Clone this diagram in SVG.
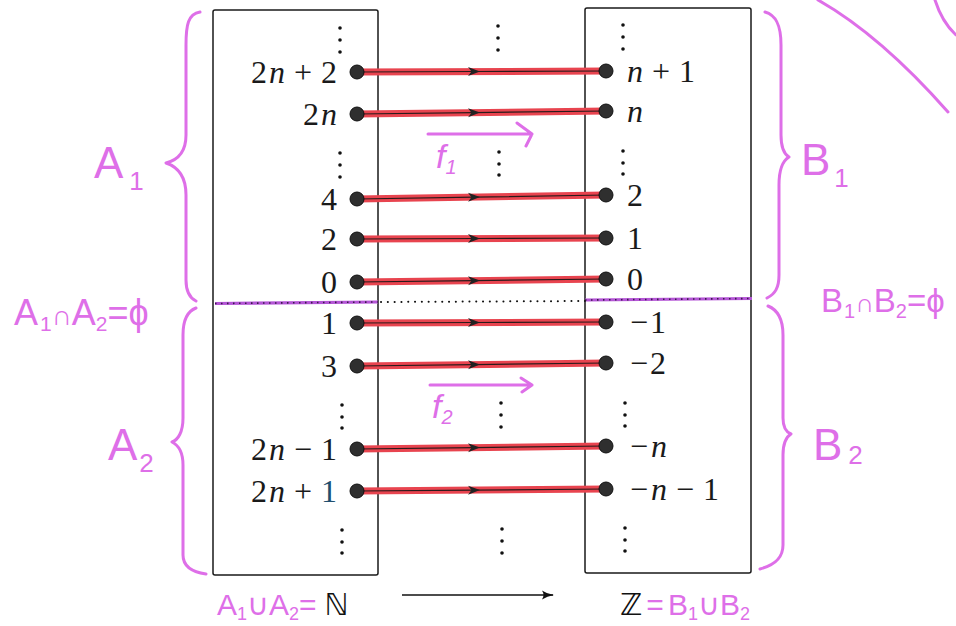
<svg xmlns="http://www.w3.org/2000/svg" width="956" height="626" viewBox="0 0 956 626">
<defs>
<style>
.box{fill:none;stroke:#1a1a1a;stroke-width:1.5}
.lbl{font-family:"Liberation Serif","Times New Roman",serif;font-size:32px;fill:#1a1a1a}
.it{font-style:italic}
.dot{fill:#2f2f2f;stroke:#111;stroke-width:1}
.ell{fill:#111}
.red{fill:none;stroke:#e8444f;stroke-width:7;stroke-linecap:round}
.blk{fill:none;stroke:#2a1a1a;stroke-width:1.2;marker-mid:url(#chev)}
.hand{font-family:"Liberation Sans",Arial,sans-serif;fill:#de6fe8}
.hs{fill:none;stroke:#de6fe8;stroke-width:3;stroke-linecap:round;stroke-linejoin:round}
.bb{font-family:"DejaVu Sans",sans-serif;fill:#111}
</style>
<marker id="chev" viewBox="0 0 12 10" refX="6" refY="5" markerWidth="12" markerHeight="10" markerUnits="userSpaceOnUse" orient="auto">
<path d="M0,0.5 L12,5 L0,9.5 L3.5,5 Z" fill="#222"/>
</marker>
<marker id="arr" viewBox="0 0 12 10" refX="11" refY="5" markerWidth="12" markerHeight="10" markerUnits="userSpaceOnUse" orient="auto">
<path d="M0,0.5 Q5,4 12,5 Q5,6 0,9.5 Q3,5 0,0.5 Z" fill="#111"/>
</marker>
</defs>
<rect width="956" height="626" fill="#fff"/>

<!-- sets (boxes) -->
<g id="set-N">
<rect class="box" x="213" y="10" width="165" height="565" rx="2"/>
</g>
<g id="set-Z">
<rect class="box" x="585" y="8" width="166" height="565" rx="2"/>
</g>

<!-- separators -->
<g id="separators">
<line x1="215" y1="303.5" x2="378" y2="302" stroke="#b455d6" stroke-width="3.2"/>
<line x1="215" y1="303.5" x2="378" y2="302" stroke="#3a1a4a" stroke-width="1.6" stroke-dasharray="1.5 4.5"/>
<line x1="585" y1="300" x2="752" y2="298.5" stroke="#b455d6" stroke-width="3.2"/>
<line x1="585" y1="300" x2="752" y2="298.5" stroke="#3a1a4a" stroke-width="1.6" stroke-dasharray="1.5 4.5"/>
<line x1="381" y1="302" x2="585" y2="301" stroke="#111" stroke-width="2" stroke-linecap="round" stroke-dasharray="0.1 6.7"/>
</g>

<!-- ellipses -->
<g id="ellipses" class="ell">
<circle cx="340" cy="28" r="1.8"/><circle cx="340" cy="40" r="1.8"/><circle cx="340" cy="52" r="1.8"/>
<circle cx="340" cy="153" r="1.8"/><circle cx="340" cy="165" r="1.8"/><circle cx="340" cy="177" r="1.8"/>
<circle cx="342" cy="405" r="1.8"/><circle cx="342" cy="417" r="1.8"/><circle cx="342" cy="428" r="1.8"/>
<circle cx="342" cy="530" r="1.8"/><circle cx="342" cy="542" r="1.8"/><circle cx="342" cy="553" r="1.8"/>
<circle cx="498" cy="26" r="1.8"/><circle cx="498" cy="38" r="1.8"/><circle cx="498" cy="50" r="1.8"/>
<circle cx="499" cy="152" r="1.8"/><circle cx="499" cy="164" r="1.8"/><circle cx="499" cy="175" r="1.8"/>
<circle cx="501" cy="403" r="1.8"/><circle cx="501" cy="415" r="1.8"/><circle cx="501" cy="427" r="1.8"/>
<circle cx="502" cy="529" r="1.8"/><circle cx="502" cy="541" r="1.8"/><circle cx="502" cy="553" r="1.8"/>
<circle cx="623" cy="25" r="1.8"/><circle cx="623" cy="37" r="1.8"/><circle cx="623" cy="49" r="1.8"/>
<circle cx="623" cy="151" r="1.8"/><circle cx="623" cy="163" r="1.8"/><circle cx="623" cy="174" r="1.8"/>
<circle cx="625" cy="403" r="1.8"/><circle cx="625" cy="415" r="1.8"/><circle cx="625" cy="426" r="1.8"/>
<circle cx="625" cy="528" r="1.8"/><circle cx="625" cy="540" r="1.8"/><circle cx="625" cy="551" r="1.8"/>
</g>

<!-- connectors -->
<g id="connectors">
<path class="red" d="M357,72 L606,71"/><path class="blk" d="M357,72 L474,71.5 L606,71"/>
<path class="red" d="M357,114 L606,111"/><path class="blk" d="M357,114 L474,112.6 L606,111"/>
<path class="red" d="M357,199 L606,195"/><path class="blk" d="M357,199 L474,197.1 L606,195"/>
<path class="red" d="M357,239 L606,238"/><path class="blk" d="M357,239 L474,238.5 L606,238"/>
<path class="red" d="M357,282 L606,279"/><path class="blk" d="M357,282 L474,280.6 L606,279"/>
<path class="red" d="M357,323 L606,322"/><path class="blk" d="M357,323 L474,322.5 L606,322"/>
<path class="red" d="M357,366 L606,363"/><path class="blk" d="M357,366 L474,364.6 L606,363"/>
<path class="red" d="M357,449 L606,446"/><path class="blk" d="M357,449 L474,447.6 L606,446"/>
<path class="red" d="M357,491 L606,489"/><path class="blk" d="M357,491 L474,490.1 L606,489"/>
<path d="M402,595 L553,595" fill="none" stroke="#111" stroke-width="1.4" marker-end="url(#arr)"/>
</g>

<!-- left nodes -->
<g id="a-2n2"><circle class="dot" cx="357" cy="72" r="7"/><text class="lbl" x="337" y="83" text-anchor="end">2<tspan class="it" dx="2">n</tspan><tspan dx="9">+</tspan><tspan dx="9">2</tspan></text></g>
<g id="a-2n"><circle class="dot" cx="357" cy="114" r="7"/><text class="lbl" x="337" y="125" text-anchor="end">2<tspan class="it" dx="2">n</tspan></text></g>
<g id="a-4"><circle class="dot" cx="357" cy="199" r="7"/><text class="lbl" x="337" y="210" text-anchor="end">4</text></g>
<g id="a-2"><circle class="dot" cx="357" cy="239" r="7"/><text class="lbl" x="337" y="250" text-anchor="end">2</text></g>
<g id="a-0"><circle class="dot" cx="357" cy="282" r="7"/><text class="lbl" x="337" y="293" text-anchor="end">0</text></g>
<g id="a-1"><circle class="dot" cx="357" cy="323" r="7"/><text class="lbl" x="337" y="334" text-anchor="end">1</text></g>
<g id="a-3"><circle class="dot" cx="357" cy="366" r="7"/><text class="lbl" x="337" y="377" text-anchor="end">3</text></g>
<g id="a-2nm1"><circle class="dot" cx="357" cy="449" r="7"/><text class="lbl" x="337" y="460" text-anchor="end">2<tspan class="it" dx="2">n</tspan><tspan dx="9">−</tspan><tspan dx="9">1</tspan></text></g>
<g id="a-2np1"><circle class="dot" cx="357" cy="491" r="7"/><text class="lbl" x="337" y="502" text-anchor="end">2<tspan class="it" dx="2">n</tspan><tspan dx="9">+</tspan><tspan dx="9" fill="#1f4e6e">1</tspan></text></g>

<!-- right nodes -->
<g id="b-n1"><circle class="dot" cx="606" cy="71" r="7"/><text class="lbl" x="627" y="82"><tspan class="it">n</tspan><tspan dx="9">+</tspan><tspan dx="9">1</tspan></text></g>
<g id="b-n"><circle class="dot" cx="606" cy="111" r="7"/><text class="lbl it" x="627" y="122">n</text></g>
<g id="b-2"><circle class="dot" cx="606" cy="195" r="7"/><text class="lbl" x="627" y="206">2</text></g>
<g id="b-1"><circle class="dot" cx="606" cy="238" r="7"/><text class="lbl" x="627" y="249">1</text></g>
<g id="b-0"><circle class="dot" cx="606" cy="279" r="7"/><text class="lbl" x="627" y="290">0</text></g>
<g id="b-m1"><circle class="dot" cx="606" cy="322" r="7"/><text class="lbl" x="630" y="333">−<tspan dx="2">1</tspan></text></g>
<g id="b-m2"><circle class="dot" cx="606" cy="363" r="7"/><text class="lbl" x="630" y="374">−<tspan dx="2">2</tspan></text></g>
<g id="b-mn"><circle class="dot" cx="606" cy="446" r="7"/><text class="lbl" x="630" y="457">−<tspan class="it" dx="3">n</tspan></text></g>
<g id="b-mn1"><circle class="dot" cx="606" cy="489" r="7"/><text class="lbl" x="630" y="500">−<tspan class="it" dx="3">n</tspan><tspan dx="9">−</tspan><tspan dx="9">1</tspan></text></g>

<!-- handwritten annotations -->
<g id="brace-A1"><path class="hs" d="M200,12 C188,14 186,25 186,45 L186,135 C186,152 178,160 166,163 C178,167 186,176 186,195 L186,280 C186,292 190,298 196,301"/>
<text class="hand" x="94" y="178" font-size="44">A<tspan font-size="26" dx="6" dy="12">1</tspan></text></g>
<g id="brace-A2"><path class="hs" d="M196,308 C188,311 183,320 183,335 L183,418 C183,432 178,440 172,442 C178,445 183,452 183,465 L183,555 C183,566 192,572 206,574"/>
<text class="hand" x="108" y="460" font-size="44">A<tspan font-size="26" dx="2" dy="12">2</tspan></text></g>
<g id="disjoint-A"><text class="hand" x="14" y="325" font-size="36">A<tspan font-size="21" dx="2" dy="6">1</tspan><tspan font-size="28" dy="-6">∩</tspan>A<tspan font-size="21" dy="6">2</tspan><tspan dy="-6">=ϕ</tspan></text></g>
<g id="brace-B1"><path class="hs" d="M765,12 C776,15 781,25 781,45 L781,135 C781,148 784,154 789,157 C784,160 779,168 779,185 L779,275 C779,288 775,294 767,298"/>
<text class="hand" x="801" y="175" font-size="44">B<tspan font-size="26" dx="4" dy="12">1</tspan></text></g>
<g id="brace-B2"><path class="hs" d="M768,306 C778,310 783,320 783,335 L783,418 C783,428 786,432 791,434 C786,437 783,444 783,455 L783,545 C783,558 775,565 760,569"/>
<text class="hand" x="813" y="460" font-size="44">B<tspan font-size="26" dx="6" dy="4">2</tspan></text></g>
<g id="disjoint-B"><text class="hand" x="821" y="312" font-size="33">B<tspan font-size="20" dx="1" dy="6">1</tspan><tspan font-size="26" dy="-6">∩</tspan>B<tspan font-size="20" dy="6">2</tspan><tspan dy="-6">=ϕ</tspan></text></g>
<g id="map-f1"><path class="hs" d="M428,134 L532,134 M517,123 L532,134 L526,146"/>
<text class="hand" x="436" y="168" font-size="34" font-style="italic">f<tspan font-size="20" dy="6">1</tspan></text></g>
<g id="map-f2"><path class="hs" d="M430,385 L532,385 M521,378 L532,385 L522,392"/>
<text class="hand" x="432" y="418" font-size="34" font-style="italic">f<tspan font-size="20" dy="6">2</tspan></text></g>
<g id="union-A"><text class="hand" x="217" y="615" font-size="30">A<tspan font-size="18" dy="5">1</tspan><tspan dy="-5">∪A</tspan><tspan font-size="18" dy="5">2</tspan><tspan dy="-5">=</tspan><tspan class="bb" dx="8">ℕ</tspan></text></g>
<g id="union-B"><text class="bb" x="620" y="615" font-size="30">ℤ<tspan class="hand" dx="4">=</tspan><tspan class="hand" dx="4">B</tspan><tspan class="hand" font-size="18" dy="5">1</tspan><tspan class="hand" dy="-5">∪B</tspan><tspan class="hand" font-size="18" dy="5">2</tspan></text></g>
<g id="scribbles"><path class="hs" d="M818,0 Q880,35 948,112"/><path class="hs" d="M935,0 Q942,22 956,35"/></g>
</svg>
